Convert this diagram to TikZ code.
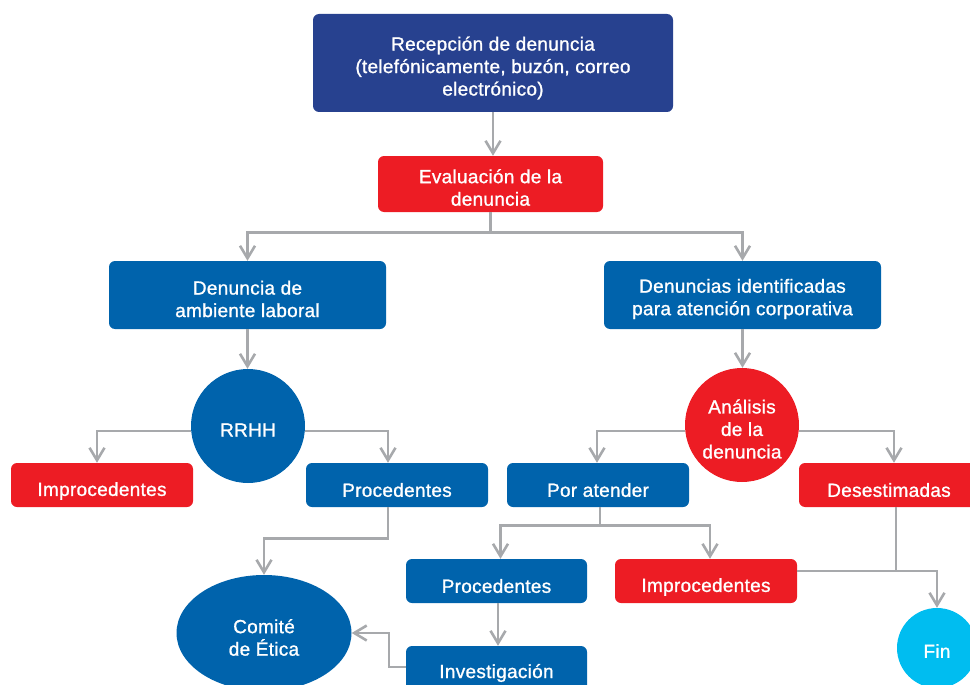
\documentclass[tikz,border=0pt]{standalone}
\usepackage{fontspec}
\setmainfont{Liberation Sans}[FakeBold=1.1,LetterSpace=1.5]
\usetikzlibrary{arrows.meta,shapes.geometric,calc}
\definecolor{navy}{RGB}{39,65,143}
\definecolor{cred}{RGB}{237,28,36}
\definecolor{cblue}{RGB}{0,99,172}
\definecolor{ccyan}{RGB}{0,189,240}
\definecolor{cgrey}{RGB}{167,169,172}
\begin{document}
\begin{tikzpicture}[x=1pt,y=-1pt,
  base/.style={text=white,font=\fontsize{19}{22.5}\selectfont,align=center,inner sep=0pt},
  rbox/.style={rectangle,rounded corners=6pt},
  bluebox/.style={rbox,fill=cblue},
  redbox/.style={rbox,fill=cred},
  arr/.style={draw=cgrey,line width=2.6pt,-{Straight Barb[length=12.5pt,width=15pt,line width=2.6pt]}},
  ln/.style={draw=cgrey,line width=2.6pt}]
\useasboundingbox (0,0) rectangle (970,685);
% shapes
\node[rbox,fill=navy,minimum width=360pt,minimum height=98pt] (rec) at (493,63) {};
\node[redbox,minimum width=225pt,minimum height=56pt] (eva) at (490.5,184) {};
\node[bluebox,minimum width=277pt,minimum height=68pt] (den) at (247.5,295) {};
\node[bluebox,minimum width=277pt,minimum height=68pt] (ide) at (742.5,295) {};
\node[circle,fill=cblue,minimum size=114pt] (rrhh) at (248,426) {};
\node[circle,fill=cred,minimum size=114pt] (ana) at (742,425) {};
\node[redbox,minimum width=182pt,minimum height=44pt] (imp1) at (102,485) {};
\node[bluebox,minimum width=182pt,minimum height=44pt] (pro1) at (397,485) {};
\node[bluebox,minimum width=182pt,minimum height=44pt] (por) at (598,485) {};
\node[redbox,minimum width=180pt,minimum height=44pt] (des) at (889,485) {};
\node[bluebox,minimum width=181pt,minimum height=44pt] (pro2) at (496.5,581) {};
\node[redbox,minimum width=182pt,minimum height=44pt] (imp2) at (706,581) {};
\node[bluebox,minimum width=181pt,minimum height=46pt] (inv) at (496.5,669) {};
\node[ellipse,fill=cblue,minimum width=175pt,minimum height=116pt] (com) at (264,633) {};
\node[circle,fill=ccyan,minimum size=80pt] (fin) at (937,648) {};
% texts
\node[base,yshift=-5pt] (trec) at (rec) {Recepción de denuncia\\(telefónicamente, buzón, correo\\electrónico)};
\node[base,yshift=-3.5pt] (teva) at (eva) {Evaluación de la\\denuncia};
\node[base,yshift=-4pt] (tden) at (den) {Denuncia de\\ambiente laboral};
\node[base,yshift=-4pt] (tide) at (ide) {Denuncias identificadas\\para atención corporativa};
\node[base,yshift=-4pt] (trrhh) at (rrhh) {RRHH};
\node[base,yshift=-4pt] (tana) at (ana) {Análisis\\de la\\denuncia};
\node[base,yshift=-6pt] (timp1) at (imp1) {Improcedentes};
\node[base,yshift=-5pt] (tpro1) at (pro1) {Procedentes};
\node[base,yshift=-5pt] (tpor) at (por) {Por atender};
\node[base,yshift=-5pt] (tdes) at (des) {Desestimadas};
\node[base,yshift=-5pt] (tpro2) at (pro2) {Procedentes};
\node[base,yshift=-6pt] (timp2) at (imp2) {Improcedentes};
\node[base,yshift=-4pt] (tinv) at (inv) {Investigación};
\node[base,yshift=-4.5pt] (tcom) at (com) {Comité\\de Ética};
\node[base,yshift=-3pt] (tfin) at (fin) {Fin};
% connectors
\draw[arr] (rec.south) -- (rec.south |- eva.north);
\draw[ln] (eva.south) -- ++(0,20) coordinate (j1);
\draw[arr] (j1) -| (den.north);
\draw[arr] (j1) -| (ide.north);
\draw[arr] (den.south) -- (den.south |- rrhh.north);
\draw[arr] ([yshift=-5pt]rrhh.west) -| ([xshift=-5pt]imp1.north);
\draw[arr] ([yshift=-5pt]rrhh.east) -| ([xshift=-9pt]pro1.north);
\draw[arr] ([xshift=-9pt]pro1.south) -- ++(0,31) -| (com.north);
\draw[arr] (ide.south) -- (ide.south |- ana.north);
\draw[arr] ([yshift=-6pt]ana.west) -| ([xshift=-1pt]por.north);
\draw[arr] ([yshift=-6pt]ana.east) -| ([xshift=5pt]des.north);
\draw[ln] ([xshift=2pt]por.south) -- ++(0,18) coordinate (j2);
\draw[arr] (j2) -| ([xshift=4pt]pro2.north);
\draw[arr] (j2) -| ([xshift=4pt]imp2.north);
\draw[arr] ([xshift=1.5pt]pro2.south) -- ([xshift=1.5pt]pro2.south |- inv.north);
\draw[arr] ([yshift=2pt]inv.west) -- ++(-17,0) |- (com.east);
\coordinate (k) at ($(imp2.east)+(0,-10)$);
\draw[ln] ([xshift=7pt]des.south) -- ([xshift=7pt]des.south |- k);
\draw[arr] (k) -| (fin.north);
\end{tikzpicture}
\end{document}
